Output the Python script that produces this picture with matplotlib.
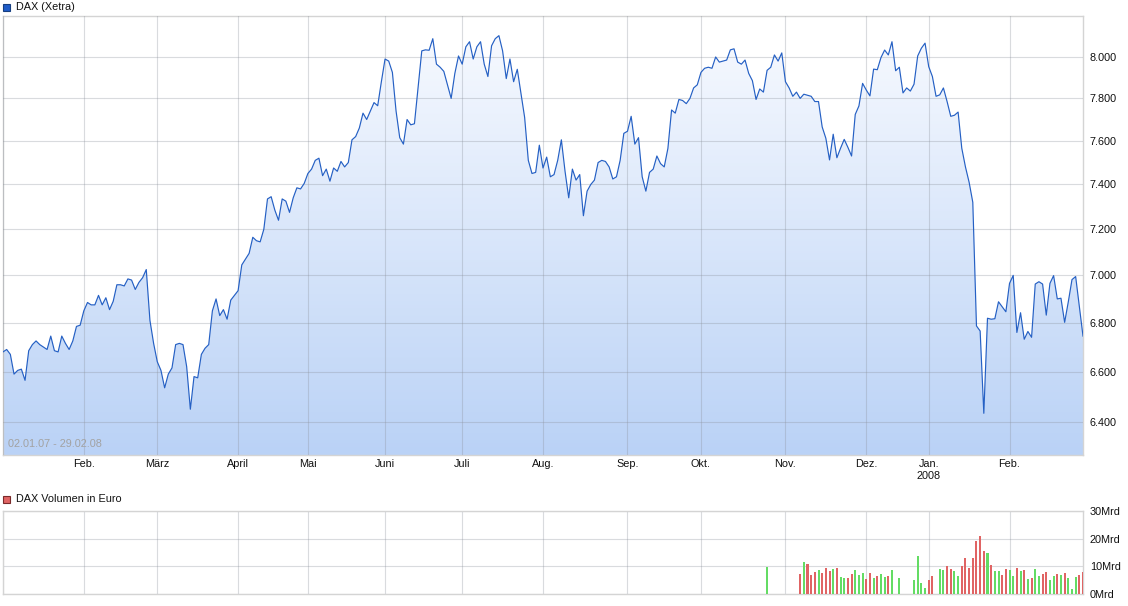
import numpy as np
import matplotlib
matplotlib.use("Agg")
import matplotlib.pyplot as plt
from matplotlib.patches import Rectangle
from matplotlib.colors import LinearSegmentedColormap
from matplotlib.ticker import NullLocator

plt.rcParams['font.family'] = ['Liberation Sans', 'DejaVu Sans']

# trading days per month, 01/2007 .. 02/2008
month_days = [22, 20, 22, 19, 21, 21, 22, 23, 20, 23, 22, 17, 22, 21]
month_labels = ["", "Feb.", "März", "April", "Mai", "Juni", "Juli", "Aug.",
                "Sep.", "Okt.", "Nov.", "Dez.", "Jan.\n2008", "Feb."]

# DAX closing values
dax_close = [
    6680, 6690, 6670, 6590, 6605, 6610, 6565, 6685, 6710, 6725,
    6710, 6700, 6690, 6745, 6685, 6680, 6745, 6715, 6690, 6725,
    6785, 6790, 6850, 6885, 6875, 6875, 6915, 6875, 6905, 6855,
    6890, 6960, 6960, 6955, 6985, 6980, 6940, 6970, 6990, 7025,
    6810, 6715, 6640, 6605, 6535, 6590, 6615, 6710, 6715, 6710,
    6620, 6450, 6580, 6575, 6670, 6695, 6710, 6850, 6900, 6830,
    6855, 6815, 6895, 6915, 6935, 7045, 7070, 7095, 7165, 7150,
    7145, 7200, 7335, 7345, 7285, 7240, 7335, 7325, 7275, 7340,
    7385, 7380, 7405, 7450, 7470, 7510, 7520, 7440, 7470, 7415,
    7475, 7460, 7505, 7480, 7500, 7605, 7620, 7660, 7730, 7700,
    7740, 7780, 7765, 7880, 7990, 7980, 7925, 7740, 7615, 7585,
    7700, 7675, 7680, 7855, 8030, 8035, 8033, 8090, 7965, 7950,
    7930, 7865, 7800, 7920, 8005, 7965, 8050, 8075, 7990, 8050,
    8075, 7965, 7905, 8055, 8090, 8105, 8030, 7895, 7990, 7880,
    7940, 7825, 7710, 7510, 7450, 7455, 7580, 7475, 7525, 7435,
    7445, 7510, 7605, 7460, 7340, 7470, 7420, 7445, 7260, 7370,
    7400, 7420, 7500, 7510, 7505, 7480, 7425, 7435, 7510, 7635,
    7645, 7715, 7585, 7615, 7435, 7370, 7455, 7470, 7530, 7495,
    7480, 7565, 7745, 7730, 7795, 7790, 7775, 7800, 7850, 7865,
    7925, 7945, 7950, 7945, 8000, 7975, 7980, 7985, 8035, 8040,
    7975, 7965, 7985, 7920, 7885, 7795, 7845, 7830, 7935, 7950,
    8010, 7980, 8020, 7880, 7850, 7810, 7830, 7800, 7820, 7815,
    7810, 7785, 7785, 7665, 7612, 7512, 7631, 7522, 7566, 7607,
    7570, 7530, 7724, 7764, 7872, 7840, 7812, 7941, 7938, 7997,
    8034, 8010, 8075, 7933, 7950, 7826, 7850, 7835, 7868, 8005,
    8043, 8068, 7953, 7905, 7810, 7817, 7850, 7785, 7715, 7720,
    7735, 7566, 7480, 7410, 7320, 6787, 6766, 6434, 6819, 6815,
    6817, 6888, 6867, 6846, 6966, 7000, 6760, 6842, 6732, 6764,
    6740, 6963, 6973, 6963, 6832, 6966, 6999, 6900, 6903, 6802,
    6888, 6982, 6995, 6867, 6745,
]

# turnover in Mrd EUR, starting at trading day 208 (None = no data)
vol_first = 208
dax_volume = [
    9.9, None, None, None, None, None, None, None, None, 7.2,
    11.6, 10.8, 6.9, 8.0, 8.7, 7.6, 9.4, 8.3, 9.0, 9.4,
    6.1, 5.8, 5.8, 7.2, 8.7, 6.9, 7.6, 5.4, 7.6, 5.8,
    6.5, 7.2, 6.1, 6.5, 8.7, None, 5.8, None, None, None,
    5.1, 13.7, 4.0, 2.2, 5.1, 6.5, None, 9.0, 8.7, 10.1,
    9.0, 8.3, 6.5, 10.1, 13.0, 9.4, 13.0, 19.2, 21.0, 15.5,
    14.8, 10.5, 8.3, 8.3, 6.9, 9.0, 8.7, 6.5, 9.4, 8.3,
    8.7, 5.4, 5.8, 9.0, 6.5, 7.2, 8.0, 5.1, 6.5, 7.2,
    6.9, 7.6, 5.8, 1.8, 6.1, 6.9, 8.0,
]

price_ticks = [6400, 6600, 6800, 7000, 7200, 7400, 7600, 7800, 8000]
vol_ticks = [0, 10, 20, 30]

W, H = 1128, 606
n = len(dax_close)
x = np.arange(n)
month_starts = np.concatenate([[0], np.cumsum(month_days)[:-1]])

fig = plt.figure(figsize=(W / 100, H / 100), dpi=100)
fig.patch.set_facecolor('white')

grid_kw = dict(color='#8c929c', alpha=0.33, lw=0.8)
spine_col = '#d4d4d4'

# ---- price panel ----
ax = fig.add_axes([3 / W, 1 - 455 / H, 1080 / W, 439 / H])
ax.set_yscale('log')
ax.set_xlim(0, n - 1)
ax.set_ylim(6272, 8203)
ax.set_autoscale_on(False)

poly = ax.fill_between(x, dax_close, 6000, color='none', lw=0)
cmap = LinearSegmentedColormap.from_list('dax', ['#bad2f6', '#f9fbff'])
grad = np.linspace(0, 1, 256).reshape(-1, 1)
img = ax.imshow(grad, cmap=cmap, aspect='auto', extent=[0, 1, 0, 1],
                transform=ax.transAxes, origin='lower', zorder=1)
img.set_clip_path(poly.get_paths()[0], poly.get_transform())

ax.plot(x, dax_close, color='#2560c4', lw=0.85, zorder=3)

ax.set_xticks(month_starts)
ax.set_xticklabels(month_labels)
ax.set_yticks(price_ticks)
ax.set_yticklabels([f"{v:,}".replace(',', '.') for v in price_ticks])
ax.yaxis.set_minor_locator(NullLocator())
ax.xaxis.set_minor_locator(NullLocator())
ax.yaxis.tick_right()
ax.tick_params(length=0, labelsize=7.8, colors='#111111')
ax.tick_params(axis='y', pad=5)
ax.tick_params(axis='x', pad=3)
ax.grid(True, zorder=2, **grid_kw)
ax.set_axisbelow(False)
for s in ax.spines.values():
    s.set_color(spine_col)
    s.set_linewidth(1.0)

ax.text(0.0045, 0.026, "02.01.07 - 29.02.08", transform=ax.transAxes,
        color='#a2a2a2', fontsize=7.8, va='center', ha='left', zorder=4)

# ---- volume panel ----
av = fig.add_axes([3 / W, 1 - 594 / H, 1080 / W, 83 / H])
vx, vy, vc = [], [], []
for k, v in enumerate(dax_volume):
    i = vol_first + k
    if v is None:
        continue
    vx.append(i)
    vy.append(v)
    vc.append('#64dc64' if dax_close[i] >= dax_close[i - 1] else '#e06464')
av.bar(vx, vy, width=0.55, color=vc, zorder=3)
av.set_xlim(0, n - 1)
av.set_ylim(0, 30)
av.set_xticks(month_starts)
av.set_xticklabels([])
av.set_yticks(vol_ticks)
av.set_yticklabels([f"{v}Mrd" for v in vol_ticks])
av.yaxis.tick_right()
av.tick_params(length=0, labelsize=7.8, colors='#111111', pad=5)
av.grid(True, zorder=1, **grid_kw)
for s in av.spines.values():
    s.set_color(spine_col)
    s.set_linewidth(1.0)

# ---- legend headers ----
fig.add_artist(Rectangle((3 / W, 1 - 10.5 / H), 7 / W, 7 / H,
                         transform=fig.transFigure, facecolor='#1f5cc8',
                         edgecolor='#173f80', lw=0.8))
fig.text(16 / W, 1 - 6.5 / H, "DAX (Xetra)", fontsize=7.8, va='center',
         ha='left', color='#111111')
fig.add_artist(Rectangle((3 / W, 1 - 502.5 / H), 7 / W, 7 / H,
                         transform=fig.transFigure, facecolor='#e06464',
                         edgecolor='#7a2a2a', lw=0.8))
fig.text(16 / W, 1 - 498.5 / H, "DAX Volumen in Euro", fontsize=7.8,
         va='center', ha='left', color='#111111')

fig.savefig('out.png', dpi=100)
